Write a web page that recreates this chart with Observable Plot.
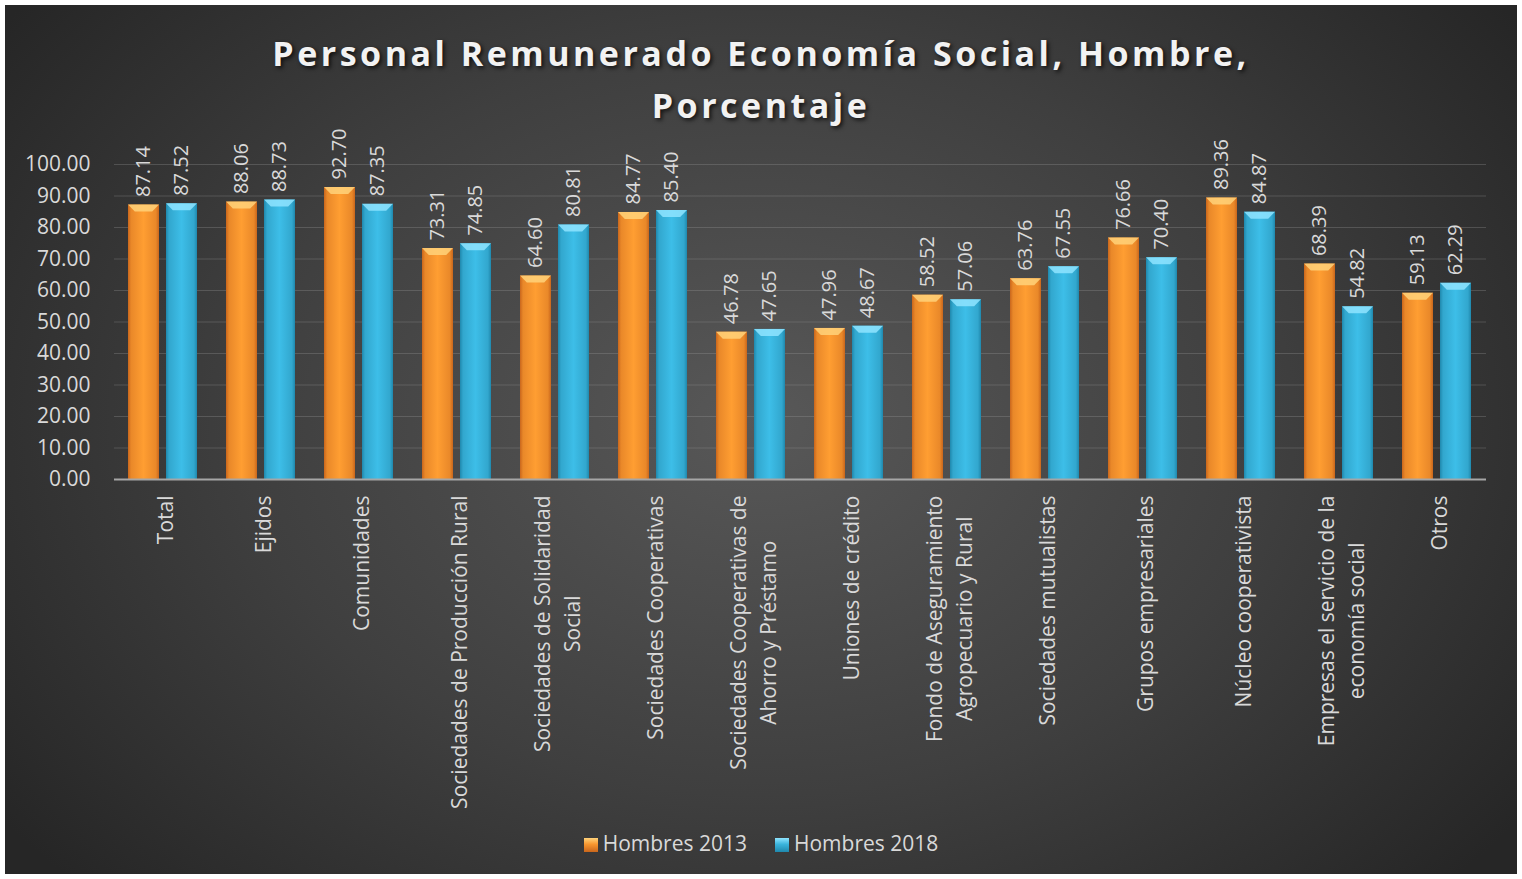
<!DOCTYPE html>
<html>
<head>
<meta charset="utf-8">
<script src="https://cdn.jsdelivr.net/npm/d3@7"></script>
<script src="https://cdn.jsdelivr.net/npm/@observablehq/plot@0.6"></script>
<style>
  html, body { margin: 0; padding: 0; background: #ffffff; }
  #frame {
    position: absolute; left: 5px; top: 5px; width: 1512px; height: 869px; overflow: hidden;
    background: radial-gradient(ellipse 62% 78% at 50% 48%, #585858 0%, #3f3f3f 55%, #262626 100%);
    font-family: "Open Sans", Lato, sans-serif;
  }
  #title {
    position: absolute; left: 0; top: 22px; width: 100%; text-align: center;
    color: #f2f2f2; font-weight: bold; font-size: 34px; letter-spacing: 3.5px; line-height: 52px;
    text-shadow: 2px 2px 4px rgba(0,0,0,0.75);
  }
  #chart { position: absolute; left: 0; top: 0; }
  #legend {
    position: absolute; left: 0; top: 824px; width: 100%; text-align: center;
    color: #d9d9d9; font-size: 21px;
  }
  #legend span.item { margin: 0 14px; }
  .sw { display: inline-block; width: 14px; height: 14px; margin-right: 5px; vertical-align: -1px; }
</style>
</head>
<body>
<div id="frame">
  <div id="chart"></div>
  <div id="title">Personal Remunerado Economía Social, Hombre,<br>Porcentaje</div>
  <div id="legend"></div>
</div>
<script>
const categories = [
  "Total", "Ejidos", "Comunidades", "Sociedades de Producción Rural",
  "Sociedades de Solidaridad Social", "Sociedades Cooperativas",
  "Sociedades Cooperativas de Ahorro y Préstamo", "Uniones de crédito",
  "Fondo de Aseguramiento Agropecuario y Rural", "Sociedades mutualistas",
  "Grupos empresariales", "Núcleo cooperativista",
  "Empresas el servicio de la economía social", "Otros"
];
const categoryLabels = [
  "Total", "Ejidos", "Comunidades", "Sociedades de Producción Rural",
  "Sociedades de Solidaridad\nSocial", "Sociedades Cooperativas",
  "Sociedades Cooperativas de\nAhorro y Préstamo", "Uniones de crédito",
  "Fondo de Aseguramiento\nAgropecuario y Rural", "Sociedades mutualistas",
  "Grupos empresariales", "Núcleo cooperativista",
  "Empresas el servicio de la\neconomía social", "Otros"
];
const seriesNames = ["Hombres 2013", "Hombres 2018"];
const values2013 = [87.14, 88.06, 92.70, 73.31, 64.60, 84.77, 46.78, 47.96, 58.52, 63.76, 76.66, 89.36, 68.39, 59.13];
const values2018 = [87.52, 88.73, 87.35, 74.85, 80.81, 85.40, 47.65, 48.67, 57.06, 67.55, 70.40, 84.87, 54.82, 62.29];
const yTicks = [0, 10, 20, 30, 40, 50, 60, 70, 80, 90, 100];
const seriesColors = ["#f7962f", "#3ab4dc"];
const seriesHighlights = ["#ffd27a", "#8fe4ff"];
const seriesShades = ["#c9661c", "#1f88ad"];

const data = categories.flatMap((c, i) => [
  {cat: c, series: seriesNames[0], value: values2013[i]},
  {cat: c, series: seriesNames[1], value: values2018[i]}
]);

const textColor = "#d9d9d9";
const fontFamily = "'Open Sans', Lato, sans-serif";

const svg = Plot.plot({
  width: 1512,
  height: 869,
  marginLeft: 107,
  marginRight: 29,
  marginTop: 159,
  marginBottom: 395,
  style: {background: "transparent", fontFamily, color: textColor, overflow: "visible"},
  fx: {domain: categories, padding: 0, label: null, axis: null},
  x: {domain: seriesNames, paddingInner: 0.18, paddingOuter: 0.365, axis: null},
  y: {domain: [0, 100], axis: null},
  marks: [
    Plot.gridY(yTicks, {stroke: "#9a9a9a", strokeOpacity: 0.3, strokeWidth: 1}),
    Plot.barY(data.filter(d => d.series === seriesNames[0]), {fx: "cat", x: "series", y: "value", fill: "url(#grad0)", className: "bar0"}),
    Plot.barY(data.filter(d => d.series === seriesNames[1]), {fx: "cat", x: "series", y: "value", fill: "url(#grad1)", className: "bar1"}),
    Plot.ruleY([0], {stroke: "#a6a6a6", strokeWidth: 2}),
    Plot.text(data, {
      fx: "cat", x: "series", y: "value", text: d => d.value.toFixed(2),
      rotate: -90, textAnchor: "start", lineAnchor: "middle", dy: -8,
      fill: textColor, fontSize: 20
    }),
    Plot.axisY(yTicks, {
      tickFormat: d => d.toFixed(2), tickSize: 0, tickPadding: 24,
      fontSize: 21, fill: textColor, label: null
    }),
    Plot.axisFx({
      anchor: "bottom", tickSize: 0, tickPadding: 16, rotate: -90,
      textAnchor: "end", lineAnchor: "middle", fontSize: 21, lineHeight: 1.43,
      fill: textColor, label: null,
      tickFormat: c => categoryLabels[categories.indexOf(c)]
    })
  ]
});

document.getElementById("chart").appendChild(svg);

// gradients for bevelled bars
const defs = d3.select(svg).insert("defs", ":first-child");
function grad(id, stops) {
  const g = defs.append("linearGradient").attr("id", id)
    .attr("x1", "0").attr("x2", "1").attr("y1", "0").attr("y2", "0");
  stops.forEach(([o, c]) => g.append("stop").attr("offset", o).attr("stop-color", c));
}
seriesColors.forEach((c, i) => {
  grad("grad" + i, [[0, seriesShades[i]], [0.1, d3.interpolateRgb(seriesShades[i], c)(0.7)], [0.5, d3.color(c).brighter(0.15).formatHex()], [0.9, d3.interpolateRgb(seriesShades[i], c)(0.7)], [1, seriesShades[i]]]);
});

// bevel highlight on the top face of every bar (derived from the rendered bar geometry)
[0, 1].forEach(i => {
  d3.select(svg).selectAll(`g.bar${i} rect`).each(function() {
    const r = this;
    const x = +r.getAttribute("x"), y = +r.getAttribute("y"), w = +r.getAttribute("width");
    const h = 7, inset = w * 0.22;
    d3.select(r.parentNode).append("polygon")
      .attr("points", `${x},${y} ${x + w},${y} ${x + w - inset},${y + h} ${x + inset},${y + h}`)
      .attr("fill", seriesHighlights[i]).attr("fill-opacity", 0.85);
  });
});

// center multi-line category labels on each other
d3.select(svg).selectAll("text").each(function() {
  const tspans = Array.from(this.querySelectorAll("tspan"));
  if (tspans.length < 2) return;
  const lens = tspans.map(t => t.getComputedTextLength());
  const L = Math.max(...lens);
  tspans.forEach((t, i) => t.setAttribute("x", -(L - lens[i]) / 2));
});

// legend
const legend = d3.select("#legend");
seriesNames.forEach((s, i) => {
  const item = legend.append("span").attr("class", "item");
  item.append("span").attr("class", "sw")
    .style("background", `linear-gradient(180deg, ${seriesHighlights[i]} 0%, ${seriesColors[i]} 45%, ${seriesShades[i]} 100%)`);
  item.append("span").text(s);
});
</script>
</body>
</html>
